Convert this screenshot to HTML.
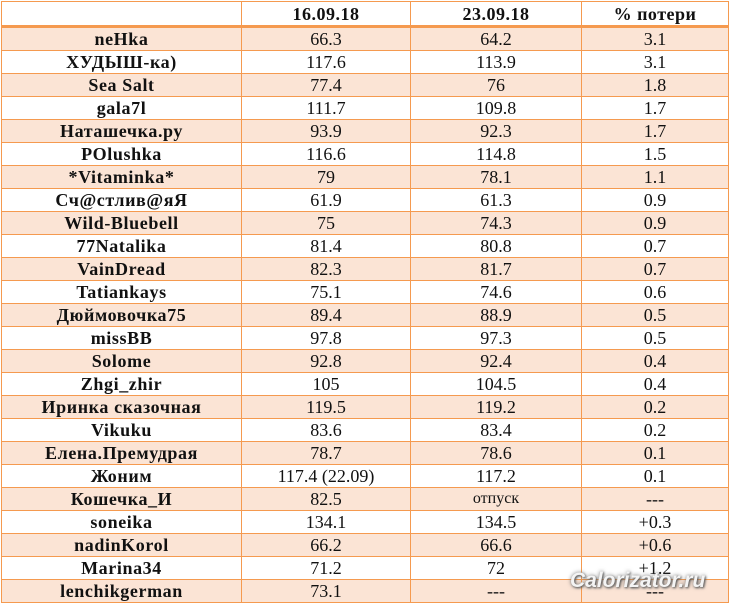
<!DOCTYPE html>
<html><head><meta charset="utf-8"><style>
body{margin:0;width:732px;height:605px;background:#fff;overflow:hidden;position:relative}
table{position:absolute;left:1px;top:1px;border-collapse:collapse;table-layout:fixed;font-family:"Liberation Serif",serif;font-size:18px;color:#111}
td{border:1px solid #f59a4f;height:22px;padding:0;text-align:center;line-height:20px;white-space:nowrap;overflow:hidden}
tr.h td{height:23px;font-weight:bold;font-size:18px;letter-spacing:0.5px;border-bottom:3px solid #f59a4f}
td:first-child{font-weight:bold;font-size:18px;letter-spacing:0.6px}
tr:nth-child(even) td{background:#fbe4d5}
.wm{position:absolute;left:570px;top:569px;font:italic bold 21px "Liberation Sans",sans-serif;color:#f4f4f4;text-shadow:1px 1px 2px #555,0 0 4px #777}
</style></head><body>
<table>
<colgroup><col style="width:240px"><col style="width:169px"><col style="width:171px"><col style="width:147px"></colgroup>
<tr class="h"><td></td><td>16.09.18</td><td>23.09.18</td><td>% потери</td></tr>
<tr><td>neHka</td><td>66.3</td><td>64.2</td><td>3.1</td></tr>
<tr><td>ХУДЫШ-ка)</td><td>117.6</td><td>113.9</td><td>3.1</td></tr>
<tr><td>Sea Salt</td><td>77.4</td><td>76</td><td>1.8</td></tr>
<tr><td>gala7l</td><td>111.7</td><td>109.8</td><td>1.7</td></tr>
<tr><td>Наташечка.ру</td><td>93.9</td><td>92.3</td><td>1.7</td></tr>
<tr><td>POlushka</td><td>116.6</td><td>114.8</td><td>1.5</td></tr>
<tr><td>*Vitaminka*</td><td>79</td><td>78.1</td><td>1.1</td></tr>
<tr><td>Сч@стлив@яЯ</td><td>61.9</td><td>61.3</td><td>0.9</td></tr>
<tr><td>Wild-Bluebell</td><td>75</td><td>74.3</td><td>0.9</td></tr>
<tr><td>77Natalika</td><td>81.4</td><td>80.8</td><td>0.7</td></tr>
<tr><td>VainDread</td><td>82.3</td><td>81.7</td><td>0.7</td></tr>
<tr><td>Tatiankays</td><td>75.1</td><td>74.6</td><td>0.6</td></tr>
<tr><td>Дюймовочка75</td><td>89.4</td><td>88.9</td><td>0.5</td></tr>
<tr><td>missBB</td><td>97.8</td><td>97.3</td><td>0.5</td></tr>
<tr><td>Solome</td><td>92.8</td><td>92.4</td><td>0.4</td></tr>
<tr><td>Zhgi_zhir</td><td>105</td><td>104.5</td><td>0.4</td></tr>
<tr><td>Иринка сказочная</td><td>119.5</td><td>119.2</td><td>0.2</td></tr>
<tr><td>Vikuku</td><td>83.6</td><td>83.4</td><td>0.2</td></tr>
<tr><td>Елена.Премудрая</td><td>78.7</td><td>78.6</td><td>0.1</td></tr>
<tr><td>Жоним</td><td>117.4 (22.09)</td><td>117.2</td><td>0.1</td></tr>
<tr><td>Кошечка_И</td><td>82.5</td><td style="font-size:16px">отпуск</td><td>---</td></tr>
<tr><td>soneika</td><td>134.1</td><td>134.5</td><td>+0.3</td></tr>
<tr><td>nadinKorol</td><td>66.2</td><td>66.6</td><td>+0.6</td></tr>
<tr><td>Marina34</td><td>71.2</td><td>72</td><td>+1.2</td></tr>
<tr><td>lenchikgerman</td><td>73.1</td><td>---</td><td>---</td></tr>
</table>
<div class="wm">Calorizator.ru</div>
</body></html>
